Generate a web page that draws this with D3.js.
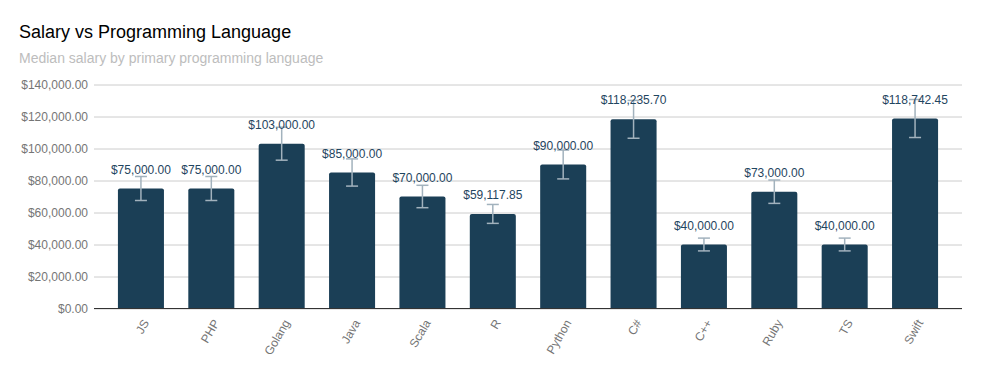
<!DOCTYPE html>
<html><head><meta charset="utf-8">
<script src="https://cdn.jsdelivr.net/npm/d3@7"></script>
<style>body{margin:0;background:#fff}svg{display:block;font-family:"Liberation Sans",Arial,sans-serif}</style>
</head><body><svg id="c" width="981" height="371"></svg>
<script>
const categories = ["JS","PHP","Golang","Java","Scala","R","Python","C#","C++","Ruby","TS","Swift"];
const salaries = [75000,75000,103000,85000,70000,59117.85,90000,118235.70,40000,73000,40000,118742.45];
const yTicks = [0,20000,40000,60000,80000,100000,120000,140000];
const errorPercent = 10;
const title = "Salary vs Programming Language";
const subtitle = "Median salary by primary programming language";

const svg = d3.select("#c");
const L = 94, R = 962, T = 84.5, B = 308.5;
const x = d3.scaleBand().domain(categories).range([L, R]).paddingInner(0.346).paddingOuter(0.34);
const y = d3.scaleLinear().domain([0, 140000]).range([B, T]);
const fmt = v => "$" + d3.format(",.2f")(v);

svg.append("text").attr("x",19).attr("y",38).attr("font-size",18).attr("fill","#000").text(title);
svg.append("text").attr("x",19).attr("y",63).attr("font-size",14).attr("fill","#bdbdbd").text(subtitle);

const ya = svg.append("g").attr("transform",`translate(${L},0)`)
  .call(d3.axisLeft(y).tickValues(yTicks).tickSize(-(R-L)).tickFormat(fmt).tickPadding(6));
ya.select(".domain").remove();
ya.selectAll(".tick line").attr("stroke","#cccccc");
ya.selectAll(".tick text").attr("fill","#757575").attr("font-size",12).attr("font-family","Liberation Sans, Arial, sans-serif");

const color = "#1b3f56";
const g = svg.append("g");
g.selectAll("path.bar").data(categories).join("path").attr("class","bar")
  .attr("fill", color)
  .attr("d", (c,i) => {
    const x0 = x(c), w = x.bandwidth(), y0 = y(salaries[i]), r = 2;
    return `M${x0},${B}V${y0+r}Q${x0},${y0} ${x0+r},${y0}H${x0+w-r}Q${x0+w},${y0} ${x0+w},${y0+r}V${B}Z`;
  });

const eg = svg.append("g").attr("stroke","#a2b2bd").attr("stroke-width",1.5).attr("fill","none");
categories.forEach((c,i) => {
  const cx = x(c) + x.bandwidth()/2;
  const e = salaries[i]*errorPercent/100;
  const yt = y(salaries[i]+e), yb = y(salaries[i]-e);
  eg.append("line").attr("x1",cx).attr("x2",cx).attr("y1",yt).attr("y2",yb);
  eg.append("line").attr("x1",cx-6).attr("x2",cx+6).attr("y1",yt).attr("y2",yt);
  eg.append("line").attr("x1",cx-6).attr("x2",cx+6).attr("y1",yb).attr("y2",yb);
});

svg.append("g").selectAll("text").data(categories).join("text")
  .attr("x", c => x(c)+x.bandwidth()/2)
  .attr("y", (c,i) => y(salaries[i]) - 15)
  .attr("text-anchor","middle").attr("font-size",12).attr("fill","#1f4560")
  .text((c,i) => fmt(salaries[i]));

const xa = svg.append("g").attr("transform",`translate(0,${B})`)
  .call(d3.axisBottom(x).tickSize(0).tickPadding(0));
xa.select(".domain").remove();
svg.append("line").attr("x1",L).attr("x2",R).attr("y1",B).attr("y2",B).attr("stroke","#333").attr("stroke-width",1);
xa.selectAll(".tick text").attr("fill","#757575").attr("font-size",12)
  .attr("font-family","Liberation Sans, Arial, sans-serif")
  .attr("text-anchor","end").attr("dy","0.35em")
  .attr("transform","translate(5,12) rotate(-60)");
</script></body></html>
